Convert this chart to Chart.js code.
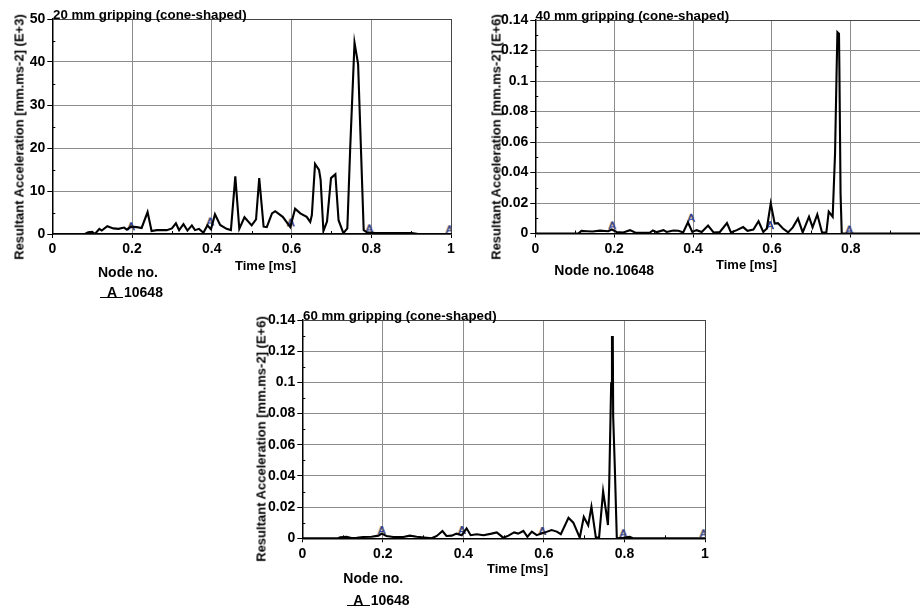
<!DOCTYPE html>
<html>
<head>
<meta charset="utf-8">
<script src="https://cdn.jsdelivr.net/npm/chart.js@4.4.1/dist/chart.umd.min.js"></script>
<style>
  body { margin: 0; width: 920px; height: 610px; overflow: hidden; background: #fff; position: relative;
         font-family: "Liberation Sans", Arial, sans-serif; color: #000; }
  canvas { position: absolute; }
  .t { position: absolute; white-space: nowrap; font-weight: bold; line-height: 1; }
  .ylab { position: absolute; white-space: nowrap; font-size: 13px; line-height: 13px; font-weight: bold;
          transform: translate(-50%, -50%) rotate(-90deg); }
  .rule { position: absolute; height: 1.5px; background: #000; }
</style>
</head>
<body>
<canvas id="c20" width="460" height="300" style="left:0;top:0"></canvas>
<canvas id="c40" width="480" height="300" style="left:460px;top:0"></canvas>
<canvas id="c60" width="480" height="310" style="left:240px;top:300px"></canvas>

<!-- 20 mm -->
<div class="t" style="left:53px;top:7.7px;font-size:13.3px">20 mm gripping (cone-shaped)</div>
<div class="ylab" style="left:18.5px;top:137px">Resultant Acceleration [mm.ms-2] (E+3)</div>
<div class="t" style="left:235px;top:258.5px;font-size:13px">Time [ms]</div>
<div class="t" style="left:98px;top:264.9px;font-size:14px">Node no.</div>
<div class="rule" style="left:100px;top:296.5px;width:23px"></div>
<div class="t" style="left:107px;top:285.2px;font-size:14px">A</div>
<div class="t" style="left:124px;top:285.2px;font-size:14px">10648</div>

<!-- 40 mm -->
<div class="t" style="left:535.5px;top:9.2px;font-size:13.3px">40 mm gripping (cone-shaped)</div>
<div class="ylab" style="left:496px;top:137px">Resultant Acceleration [mm.ms-2] (E+6)</div>
<div class="t" style="left:716px;top:257.7px;font-size:13px">Time [ms]</div>
<div class="t" style="left:554.3px;top:263.2px;font-size:14px">Node no.<span style="margin-left:1px">10648</span></div>

<!-- 60 mm -->
<div class="t" style="left:303px;top:309.2px;font-size:13.3px">60 mm gripping (cone-shaped)</div>
<div class="ylab" style="left:261px;top:439px">Resultant Acceleration [mm.ms-2] (E+6)</div>
<div class="t" style="left:487px;top:562px;font-size:13px">Time [ms]</div>
<div class="t" style="left:343.3px;top:571.2px;font-size:14px">Node no.</div>
<div class="rule" style="left:346.7px;top:604.5px;width:23.3px"></div>
<div class="t" style="left:353.3px;top:593.2px;font-size:14px">A</div>
<div class="t" style="left:370.7px;top:593.2px;font-size:14px">10648</div>

<script>
// tick labels
const xTicks = [0, 0.2, 0.4, 0.6, 0.8, 1];
const xMinor = [0.1, 0.3, 0.5, 0.7, 0.9];
const yTicks20 = [0, 10, 20, 30, 40, 50];
const yMinor20 = [5, 15, 25, 35, 45];
const yTicksE6 = [0, 0.02, 0.04, 0.06, 0.08, 0.1, 0.12, 0.14];
const yMinorE6 = [0.01, 0.03, 0.05, 0.07, 0.09, 0.11, 0.13];

// 20 mm gripping, node 10648 (E+3)
const time20 = [0, 0.082, 0.09, 0.1, 0.107, 0.118, 0.124, 0.138, 0.153, 0.166, 0.18, 0.187, 0.197, 0.212, 0.224,
  0.239, 0.249, 0.262, 0.287, 0.3, 0.31, 0.318, 0.329, 0.339, 0.35, 0.358, 0.368, 0.379, 0.389, 0.398, 0.408,
  0.421, 0.437, 0.448, 0.459, 0.469, 0.482, 0.5, 0.511, 0.519, 0.53, 0.538, 0.551, 0.559, 0.578, 0.597, 0.609,
  0.622, 0.638, 0.647, 0.651, 0.659, 0.669, 0.673, 0.68, 0.689, 0.699, 0.71, 0.718, 0.73, 0.74, 0.747, 0.758,
  0.767, 0.781, 0.789, 0.81, 0.902, 0.918, 1];
const accel20 = [0, 0, 0.4, 0.5, 0, 1.2, 0.8, 1.8, 1.3, 1.2, 1.5, 1.0, 1.7, 1.6, 1.4,
  5.1, 0.7, 0.9, 0.9, 1.3, 2.5, 0.9, 2.3, 0.8, 2.0, 0.9, 1.2, 0.3, 2.0, 1.1, 4.6,
  2.1, 1.2, 0.9, 13.4, 1.2, 3.9, 2.0, 3.4, 13.0, 1.7, 1.6, 4.8, 5.3, 4.0, 1.6, 5.9,
  4.8, 4.0, 2.8, 4.4, 16.3, 14.9, 12.6, 0.7, 2.9, 13.0, 13.9, 3.2, 0.2, 1.3, 19.5, 44.5,
  39.5, 0.9, 0.4, 0.2, 0.2, 0, 0];
const markTime20 = [0.1975, 0.396, 0.598, 0.795, 0.996];
const markAccel20 = [1.8, 2.9, 2.7, 1.3, 1.1];

// 40 mm gripping (E+6)
const time40 = [0, 0.109, 0.117, 0.13, 0.145, 0.164, 0.185, 0.194, 0.206, 0.223, 0.24, 0.253, 0.28, 0.29, 0.298,
  0.308, 0.325, 0.333, 0.35, 0.363, 0.375, 0.387, 0.398, 0.409, 0.422, 0.438, 0.452, 0.468, 0.486, 0.496, 0.511,
  0.527, 0.538, 0.553, 0.566, 0.578, 0.587, 0.597, 0.607, 0.615, 0.628, 0.641, 0.653, 0.666, 0.678, 0.694, 0.703,
  0.715, 0.727, 0.738, 0.744, 0.754, 0.76, 0.764, 0.766, 0.77, 0.771, 0.774, 0.777, 1];
const accel40 = [0, 0, 0.0017, 0.0015, 0.0013, 0.0019, 0.0015, 0.0026, 0.001, 0.0007, 0.0022, 0.0007, 0.0004, 0.0005, 0.002,
  0.0009, 0.0022, 0.001, 0.002, 0.0018, 0.0007, 0.0074, 0.001, 0.0022, 0.001, 0.0052, 0.0007, 0.001, 0.0068, 0.0007, 0.0022,
  0.0042, 0.0018, 0.0026, 0.008, 0.001, 0.0033, 0.0198, 0.0065, 0.0068, 0.0033, 0.0007, 0.004, 0.0098, 0.0007, 0.011, 0.004,
  0.0125, 0.0007, 0.0007, 0.0143, 0.011, 0.0525, 0.107, 0.132, 0.131, 0.109, 0.026, 0, 0];
const markTime40 = [0.195, 0.395, 0.595, 0.796];
const markAccel40 = [0.0053, 0.0103, 0.0055, 0.0026];

// 60 mm gripping (E+6)
const time60 = [0, 0.089, 0.094, 0.11, 0.122, 0.135, 0.151, 0.172, 0.189, 0.197, 0.209, 0.226, 0.251, 0.267, 0.284,
  0.309, 0.321, 0.334, 0.348, 0.358, 0.371, 0.383, 0.396, 0.408, 0.418, 0.433, 0.45, 0.47, 0.483, 0.499, 0.512,
  0.526, 0.536, 0.549, 0.559, 0.57, 0.582, 0.594, 0.603, 0.619, 0.632, 0.642, 0.661, 0.673, 0.689, 0.699, 0.71,
  0.718, 0.729, 0.737, 0.747, 0.755, 0.759, 0.762, 0.767, 0.769, 0.771, 0.772, 0.776, 0.781, 0.797, 0.813, 0.821, 1];
const accel60 = [0, 0, 0.0006, 0.001, 0.0002, 0.0004, 0.0008, 0.001, 0.0017, 0.003, 0.0015, 0.0008, 0.0008, 0.0017, 0.001,
  0.0004, 0, 0.0015, 0.0047, 0.0015, 0.0017, 0.003, 0.002, 0.0064, 0.002, 0.0026, 0.002, 0.003, 0.0038, 0.0004, 0.0017,
  0.0038, 0.003, 0.0047, 0.001, 0.0043, 0.002, 0.003, 0.0038, 0.0053, 0.0043, 0.0026, 0.0132, 0.01, 0.0004, 0.0137, 0.0083,
  0.0203, 0.0004, 0.0006, 0.0301, 0.016, 0.0085, 0.033, 0.0994, 0.129, 0.129, 0.078, 0.046, 0, 0.0004, 0.001, 0, 0];
const markTime60 = [0.197, 0.396, 0.596, 0.797, 0.996];
const markAccel60 = [0.0053, 0.0053, 0.0047, 0.0032, 0.0032];

const fontFamily = '"Liberation Sans", Arial, sans-serif';
const tickFont = { family: fontFamily, size: 14, weight: 'bold' };

// little "A" node marker
const markImg = document.createElement('canvas');
markImg.width = 12; markImg.height = 12;
(function () {
  const c = markImg.getContext('2d');
  c.font = '11px ' + fontFamily;
  c.textAlign = 'center';
  c.textBaseline = 'middle';
  c.fillStyle = '#e08a20';
  c.fillText('A', 5.3, 6.5);
  c.fillStyle = '#1f3d9e';
  c.fillText('A', 6.2, 6.5);
  c.fillText('A', 6.5, 6.5);
})();

const minorTicks = {
  id: 'minorTicks',
  beforeDatasetsDraw(chart, args, opts) {
    const { ctx, chartArea: area, scales: { x, y } } = chart;
    ctx.save();
    ctx.strokeStyle = '#000';
    ctx.lineWidth = 1;
    opts.x.forEach(v => {
      const px = Math.round(x.getPixelForValue(v)) + 0.5;
      if (px > area.right) return;
      ctx.beginPath(); ctx.moveTo(px, area.bottom); ctx.lineTo(px, area.bottom - 3); ctx.stroke();
    });
    opts.y.forEach(v => {
      const py = Math.round(y.getPixelForValue(v)) + 0.5;
      ctx.beginPath(); ctx.moveTo(area.left, py); ctx.lineTo(area.left + 3, py); ctx.stroke();
    });
    ctx.restore();
  }
};

const fmt = v => String(+Number(v).toFixed(2));

function makeChart(id, time, accel, markT, markA, yTicks, yMinor, lay) {
  const yMax = yTicks[yTicks.length - 1];
  return new Chart(document.getElementById(id), {
    type: 'line',
    data: {
      datasets: [{
        data: time.map((t, i) => ({ x: t, y: accel[i] })),
        borderColor: '#000',
        borderWidth: 2.1,
        pointRadius: 0,
        tension: 0,
        fill: false
      }, {
        data: markT.map((t, i) => ({ x: t, y: markA[i] })),
        showLine: false,
        pointStyle: markImg,
        pointRadius: 6
      }]
    },
    options: {
      responsive: false,
      animation: false,
      devicePixelRatio: 1,
      layout: { padding: { left: 0, right: lay.right, top: lay.top, bottom: lay.bottom } },
      plugins: {
        legend: { display: false },
        tooltip: { enabled: false },
        minorTicks: { x: xMinor, y: yMinor }
      },
      scales: {
        x: {
          type: 'linear', min: 0, max: 1,
          afterBuildTicks: s => { s.ticks = xTicks.map(v => ({ value: v })); },
          afterFit: s => { s.height = 40; },
          ticks: { font: tickFont, color: '#000', padding: 3, maxRotation: 0, autoSkip: false, callback: fmt },
          grid: {
            color: c => (c.tick && c.tick.value === 1 ? '#444' : '#8c8c8c'),
            tickColor: '#000', tickLength: 4, lineWidth: 1
          },
          border: { color: '#000', width: 1.5 }
        },
        y: {
          type: 'linear', min: 0, max: yMax,
          afterBuildTicks: s => { s.ticks = yTicks.map(v => ({ value: v })); },
          afterFit: s => { s.width = lay.yWidth; },
          ticks: { font: tickFont, color: '#000', padding: 2, autoSkip: false, callback: fmt },
          grid: {
            color: c => (c.tick && c.tick.value === yMax ? '#444' : '#8c8c8c'),
            tickColor: '#000', tickLength: 5, lineWidth: 1
          },
          border: { color: '#000', width: 1.5 }
        }
      }
    },
    plugins: [minorTicks]
  });
}

makeChart('c20', time20, accel20, markTime20, markAccel20, yTicks20, yMinor20,
  { yWidth: 52.3, right: 9, top: 19, bottom: 26 });
makeChart('c40', time40, accel40, markTime40, markAccel40, yTicksE6, yMinorE6,
  { yWidth: 75.3, right: 10.3, top: 20, bottom: 26.5 });
makeChart('c60', time60, accel60, markTime60, markAccel60, yTicksE6, yMinorE6,
  { yWidth: 62.3, right: 15, top: 20, bottom: 31.7 });
</script>
</body>
</html>
